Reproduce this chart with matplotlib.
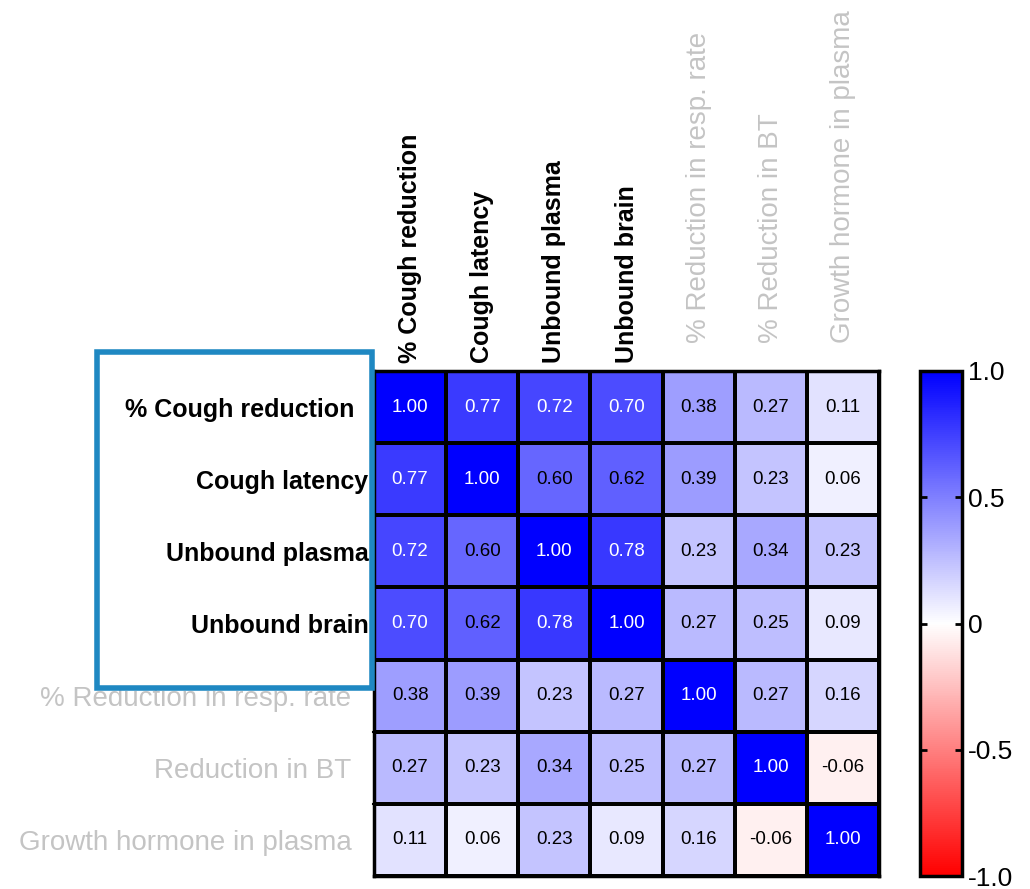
import numpy as np
import matplotlib
matplotlib.use("Agg")
import matplotlib.pyplot as plt
import matplotlib.transforms as mtransforms
from matplotlib.colors import LinearSegmentedColormap
from matplotlib.patches import Rectangle

plt.rcParams['font.family'] = ['Liberation Sans', 'DejaVu Sans']

row_labels = ["% Cough reduction", "Cough latency", "Unbound plasma", "Unbound brain",
              "% Reduction in resp. rate", "Reduction in BT", "Growth hormone in plasma"]
col_labels = ["% Cough reduction", "Cough latency", "Unbound plasma", "Unbound brain",
              "% Reduction in resp. rate", "% Reduction in BT", "Growth hormone in plasma"]
highlighted = [True, True, True, True, False, False, False]

corr = np.array([
    [1.00, 0.77, 0.72, 0.70, 0.38, 0.27, 0.11],
    [0.77, 1.00, 0.60, 0.62, 0.39, 0.23, 0.06],
    [0.72, 0.60, 1.00, 0.78, 0.23, 0.34, 0.23],
    [0.70, 0.62, 0.78, 1.00, 0.27, 0.25, 0.09],
    [0.38, 0.39, 0.23, 0.27, 1.00, 0.27, 0.16],
    [0.27, 0.23, 0.34, 0.25, 0.27, 1.00, -0.06],
    [0.11, 0.06, 0.23, 0.09, 0.16, -0.06, 1.00],
])
cbar_ticks = [-1.0, -0.5, 0, 0.5, 1.0]
cbar_ticklabels = ["-1.0", "-0.5", "0", "0.5", "1.0"]

cmap = LinearSegmentedColormap.from_list("rwb", ["#ff0000", "#ffffff", "#0000ff"])

W, H = 1030, 889
fig = plt.figure(figsize=(W / 100, H / 100), dpi=100)

def fig_rect(x0, y0, x1, y1):
    return [x0 / W, 1 - y1 / H, (x1 - x0) / W, (y1 - y0) / H]

ax = fig.add_axes(fig_rect(374, 371, 879, 876))
n = len(row_labels)
mesh = ax.pcolormesh(np.arange(n + 1), np.arange(n + 1), corr, cmap=cmap,
                     vmin=-1, vmax=1, edgecolors="black", linewidth=1.5)
ax.set_xlim(0, n)
ax.set_ylim(n, 0)
for s in ax.spines.values():
    s.set_linewidth(2.5)

for i in range(n):
    for j in range(n):
        v = corr[i, j]
        ax.text(j + 0.5, i + 0.5, f"{v:.2f}", ha="center", va="center",
                fontsize=13.5, color="white" if v >= 0.65 else "black")

ax.set_xticks(np.arange(n) + 0.5)
ax.set_yticks(np.arange(n) + 0.5)
ax.xaxis.tick_top()
ax.set_xticklabels(col_labels, rotation=90)
ax.set_yticklabels(row_labels)
ax.tick_params(axis="x", length=0, pad=6)
ax.tick_params(axis="y", length=0, pad=4)
for labels in (ax.get_xticklabels(), ax.get_yticklabels()):
    for lab, hl in zip(labels, highlighted):
        lab.set_color("black" if hl else "#c4c4c4")
        lab.set_fontweight("bold" if hl else "normal")
        lab.set_fontsize(18 if hl else 20)

# extra spacing for the secondary labels (in pixels)
col_shift = [0, 0, 0, 0, 20, 20, 20]
row_shift = [14, 0, 0, 0, 17, 17, 17]
for lab, d in zip(ax.get_xticklabels(), col_shift):
    lab.set_transform(lab.get_transform() + mtransforms.Affine2D().translate(0, d))
for lab, d in zip(ax.get_yticklabels(), row_shift):
    lab.set_transform(lab.get_transform() + mtransforms.Affine2D().translate(-d, 0))

# small marks on the left edge at row boundaries
for k in range(1, n):
    ax.plot([-0.02, 0], [k, k], color="black", lw=1.5, clip_on=False)

cax = fig.add_axes(fig_rect(920, 371, 962, 876))
cb = fig.colorbar(mesh, cax=cax, ticks=cbar_ticks)
cb.ax.set_yticklabels(cbar_ticklabels, fontsize=19)
cb.outline.set_linewidth(2.5)
cb.ax.tick_params(axis="y", direction="in", length=5, width=2, left=True, right=True, pad=4)

box = Rectangle((97 / W, 1 - 688 / H), (372 - 97) / W, (688 - 352) / H,
                transform=fig.transFigure, fill=False, edgecolor="#1f88c2", linewidth=4)
fig.add_artist(box)

fig.savefig("out.png", dpi=100)
